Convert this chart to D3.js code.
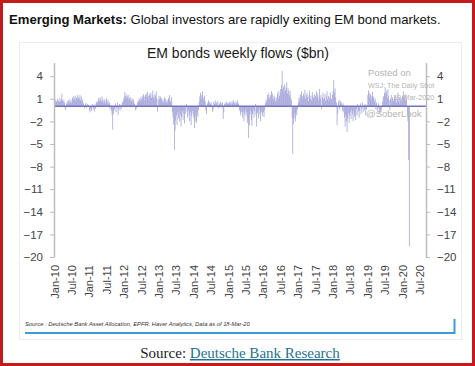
<!DOCTYPE html>
<html><head><meta charset="utf-8">
<script src="https://cdn.jsdelivr.net/npm/d3@7"></script>
<style>
html,body{margin:0;padding:0;background:#fff;}
svg{display:block;font-family:"Liberation Sans",Arial,sans-serif;}
</style></head>
<body>
<svg id="chart" width="475" height="366"></svg>
<script>
// ---- DATA (weekly EM bond fund flows, $bn) ----
const flows2010 = [0.6,0.9,0.4,0.7,1.0,0.5,0.8,0.6,1.1,0.7,0.9,1.7,0.8, 0.6,0.9,0.5,-0.5,-0.3,0.4,0.7,0.3,0.8,0.5,1.0,0.6,0.4, 0.8,1.2,0.9,1.4,1.0,1.3,0.7,1.1,1.5,0.9,1.2,1.0,1.5, 0.8,1.3,0.6,0.9,0.4,0.2,-0.3,0.3,0.5,-0.2,0.3,0.1,0.2];
const flows2011 = [-0.5,-0.8,-0.3,-0.6,-0.2,0.3,-0.4,0.2,-0.7,-0.3,0.4,0.6,0.5, 0.8,1.1,0.7,1.2,0.9,0.6,1.3,0.8,0.5,1.0,0.7,0.4,0.9, 1.1,0.6,0.8,0.3,0.5,-0.4,0.2,-0.6,-1.2,-3.1,-1.0,-0.5,-0.3, 0.4,-0.8,-0.2,0.5,-1.2,-0.4,0.3,-0.6,0.2,-0.3,0.4,0.6,0.9];
const flows2012 = [1.2,1.9,1.4,1.0,1.6,1.3,0.9,1.5,1.1,0.8,1.2,0.7,1.0, 0.6,0.9,0.4,0.3,-0.5,-0.4,0.2,0.5,0.8,0.6,1.0,0.7,1.2, 0.9,1.4,1.1,1.6,1.3,0.8,1.5,1.7,1.2,1.9,1.4,1.0,1.6, 1.3,1.8,1.1,1.5,2.1,1.2,0.9,1.6,1.4,2.0,1.1,-0.7,0.8];
const flows2013 = [1.4,1.0,1.3,0.8,1.1,0.6,0.9,0.5,1.2,0.7,1.0,0.4,0.8, 0.6,1.1,0.9,1.5,0.7,0.5,1.2,-0.8,-1.5,-2.4,-5.8,-3.2,-1.9, -1.2,-2.5,-0.8,-1.6,-0.5,-2.0,-1.1,-2.7,-1.4,-0.6,-1.8,-0.9,-2.3, -0.4,-1.0,0.3,-0.7,-1.5,-0.5,-1.2,-2.0,-0.8,-2.5,-1.3,-0.6,-1.0];
const flows2014 = [-1.5,-2.9,-2.0,-1.2,-2.2,-0.9,-1.4,-0.5,0.6,1.3,1.8,1.0,1.5, 2.0,1.2,0.9,1.4,0.7,-0.5,-1.0,0.3,0.5,0.8,0.4,0.6,0.3, 0.5,0.2,-0.7,-0.4,0.6,0.3,0.8,0.4,0.5,0.2,0.7,-0.3,0.4, 0.3,0.6,-0.2,0.4,0.5,-1.7,-0.8,0.3,0.5,0.2,0.6,0.4,0.3];
const flows2015 = [0.4,0.6,0.3,0.5,0.2,0.7,0.4,0.8,0.3,0.5,0.2,0.6,0.4, 0.8,0.5,0.3,-0.6,-0.4,-1.2,-0.8,-0.3,-1.5,-0.7,-2.0,-1.0,-0.5, -1.3,-0.8,-2.2,-1.6,-4.2,-2.5,-1.1,-0.6,-1.8,-2.6,-1.0,-0.4,-1.5, -0.7,0.3,-1.2,-2.7,-0.9,-0.5,-1.6,-0.3,-1.1,-2.0,-0.8,-0.6,-1.3];
const flows2016 = [-0.8,-1.4,-0.5,0.4,0.9,0.6,1.5,1.0,1.8,1.2,0.8,1.5,2.0, 1.3,1.7,0.9,1.4,1.1,0.6,1.2,0.8,1.6,2.0,1.0,1.4,1.9, 2.3,2.8,4.7,2.2,2.6,1.8,2.9,2.1,2.5,3.2,1.7,2.4,2.0, 1.5,2.1,1.2,0.8,-1.5,-6.3,-2.3,-1.6,-1.0,-2.0,-0.7,-1.2,-0.4];
const flows2017 = [0.5,1.2,0.8,1.6,1.1,2.0,1.4,0.9,1.7,1.3,2.2,1.0,1.5, 1.8,1.2,0.7,1.5,2.1,1.0,1.4,0.8,1.9,1.3,1.1,1.6,0.9, 1.4,2.0,1.1,1.7,0.8,1.3,2.3,1.0,1.5,-0.4,1.2,1.8,0.9, 1.1,1.6,0.7,1.3,2.0,0.9,1.4,0.6,1.2,1.8,0.8,1.0,1.5];
const flows2018 = [2.0,3.5,1.8,2.4,1.2,0.5,-2.5,-1.0,0.6,0.9,-0.4,0.7,0.3, 0.5,-0.6,0.4,-0.8,-1.5,-2.7,-1.2,-2.0,-3.4,-1.6,-0.9,-2.2,-1.3, -0.8,-1.7,-0.5,-1.1,-2.0,-0.6,-1.4,-0.9,-1.8,-0.4,-1.2,0.3,-0.7, -1.5,-0.6,0.4,-1.0,-0.3,0.5,-0.8,0.2,-0.5,0.3,-1.2,-0.4,0.2];
const flows2019 = [1.5,2.1,1.8,1.2,1.6,0.9,1.4,1.9,1.1,1.3,0.7,1.0,-0.4, 0.5,-0.6,-0.3,0.4,-0.9,-1.0,-0.5,-0.7,-0.2,0.6,1.2,1.4,1.8, 2.5,1.6,2.0,1.1,2.3,1.4,0.8,-0.5,1.0,1.5,0.7,1.2,0.9, 0.6,1.3,0.8,1.5,0.5,1.0,1.8,0.7,1.2,0.4,0.9,1.1,0.6];
const flows2020 = [1.4,2.0,1.0,1.3,0.8,1.6,0.9,-0.8,-2.0,-7.1,-18.6];

const yearlyFlows = [
  [2010, flows2010],[2011, flows2011],[2012, flows2012],[2013, flows2013],[2014, flows2014],
  [2015, flows2015],[2016, flows2016],[2017, flows2017],[2018, flows2018],[2019, flows2019],[2020, flows2020]
];
const yTicks = [4, 1, -2, -5, -8, -11, -14, -17, -20];
const xTickLabels = ["Jan-10","Jul-10","Jan-11","Jul-11","Jan-12","Jul-12","Jan-13","Jul-13","Jan-14","Jul-14",
  "Jan-15","Jul-15","Jan-16","Jul-16","Jan-17","Jul-17","Jan-18","Jul-18","Jan-19","Jul-19","Jan-20","Jul-20"];
const headlineBold = "Emerging Markets:";
const headlineRest = " Global investors are rapidly exiting EM bond markets.";
const chartTitle = "EM bonds weekly flows ($bn)";
const noteText = "Source : Deutsche Bank Asset Allocation, EPFR, Haver Analytics, Data as of 18-Mar-20";
const watermark = ["Posted on", "WSJ: The Daily Shot", "19-Mar-2020", "@SoberLook"];

// flatten to weekly records
const data = [];
yearlyFlows.forEach(([yr, arr]) => arr.forEach((v, i) => data.push({date: new Date(yr, 0, 4 + 7 * i), value: v})));

const parseLbl = d3.timeParse("%b-%y");
const tickDates = xTickLabels.map(parseLbl);

// ---- LAYOUT ----
const svg = d3.select("#chart");
const plotL = 54, plotR = 426, plotT = 62.6, plotB = 257;

svg.append("rect").attr("x",1.5).attr("y",1.5).attr("width",472).attr("height",363)
  .attr("fill","#fff").attr("stroke","#c41a1a").attr("stroke-width",3);

const h = svg.append("text").attr("x",9).attr("y",23.5).attr("font-size",13.1).attr("fill","#111");
h.append("tspan").attr("font-weight","bold").text(headlineBold);
h.append("tspan").text(headlineRest);

svg.append("rect").attr("x",19.5).attr("y",42.5).attr("width",442).attr("height",297)
  .attr("fill","#fff").attr("stroke","#ececec").attr("stroke-width",1);

svg.append("text").attr("x",238).attr("y",58).attr("text-anchor","middle")
  .attr("font-size",14).attr("fill","#1a1a1a").text(chartTitle);

const x = d3.scaleTime().domain([tickDates[0], tickDates[tickDates.length-1]]).range([54.3, 419.7]);
const y = d3.scaleLinear().domain([-20, 5.8]).range([plotB, plotT]);

// bars
svg.append("g").selectAll("rect").data(data).join("rect")
  .attr("x", d => x(d.date) - 0.4)
  .attr("width", 0.8)
  .attr("y", d => y(Math.max(0, d.value)))
  .attr("height", d => Math.abs(y(d.value) - y(0)))
  .attr("fill", "#a4a4da");

// zero line
svg.append("line").attr("x1",plotL).attr("x2",plotR).attr("y1",y(0)).attr("y2",y(0))
  .attr("stroke","#7474ba").attr("stroke-width",1.6);

// y axes
function styleAxis(g){
  g.select(".domain").attr("stroke","#bcbcbc").attr("stroke-width",1.5);
  g.selectAll(".tick line").attr("stroke","#bcbcbc");
  g.selectAll(".tick text").attr("fill","#444").attr("font-size",11.5)
    .attr("font-family","'Liberation Sans',Arial,sans-serif");
}
svg.append("g").attr("transform",`translate(${plotL},0)`)
  .call(d3.axisLeft(y).tickValues(yTicks).tickSize(4).tickSizeOuter(0).tickPadding(7).tickFormat(d3.format("d")))
  .call(styleAxis);
svg.append("g").attr("transform",`translate(${plotR},0)`)
  .call(d3.axisRight(y).tickValues(yTicks).tickSize(4).tickSizeOuter(0).tickPadding(7).tickFormat(d3.format("d")))
  .call(styleAxis);

// x axis labels
const xg = svg.append("g").attr("transform","translate(0,261)")
  .call(d3.axisBottom(x).tickValues(tickDates).tickSize(0).tickFormat(d3.timeFormat("%b-%y")));
xg.select(".domain").remove();
xg.selectAll(".tick text").attr("fill","#444").attr("font-size",11)
  .attr("font-family","'Liberation Sans',Arial,sans-serif")
  .attr("transform","rotate(-90)").attr("x",-4).attr("y",0).attr("dy","0.35em")
  .style("text-anchor","end");

// watermark
const wm = svg.append("g").attr("fill","#b4b4b4");
wm.append("text").attr("x",368).attr("y",76).attr("font-size",9.5).text(watermark[0]);
wm.append("text").attr("x",368).attr("y",87.5).attr("font-size",7.2).text(watermark[1]);
wm.append("text").attr("x",393).attr("y",99.5).attr("font-size",7.2).text(watermark[2]);
wm.append("text").attr("x",366).attr("y",116.5).attr("font-size",9.5).text(watermark[3]);

// note box
svg.append("text").attr("x",25).attr("y",326).attr("font-size",5.8).attr("font-style","italic")
  .attr("fill","#333").text(noteText);
svg.append("path").attr("d","M25,333 H454.5 V319").attr("fill","none")
  .attr("stroke","#3d9bd8").attr("stroke-width",2);

// bottom source
const s = svg.append("text").attr("x",240).attr("y",358).attr("text-anchor","middle")
  .attr("font-size",15).attr("font-family","'Liberation Serif','DejaVu Serif',serif").attr("fill","#222");
s.append("tspan").text("Source: ");
s.append("tspan").attr("fill","#1f7391").attr("text-decoration","underline").text("Deutsche Bank Research");
</script>
</body></html>
